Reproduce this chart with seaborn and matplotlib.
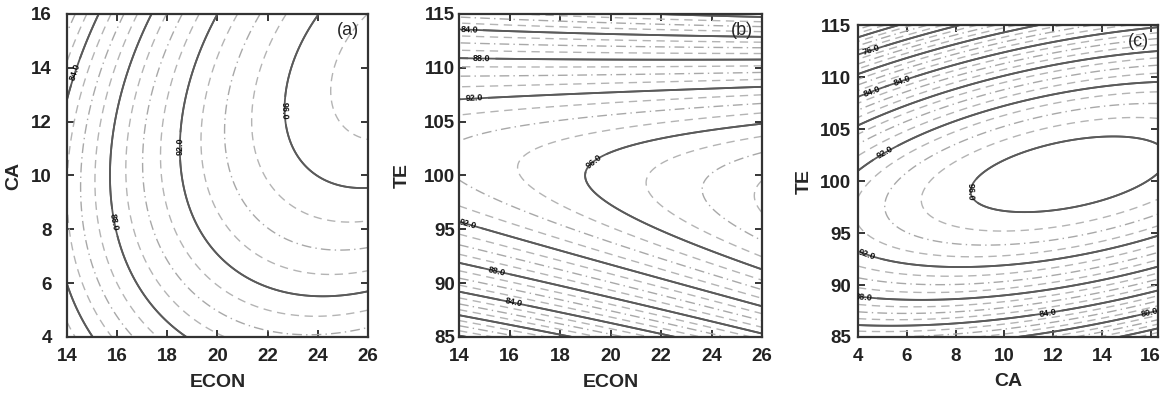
import numpy as np
import matplotlib
matplotlib.use("Agg")
import matplotlib.pyplot as plt
import seaborn as sns

# quadratic response-surface models in coded units
# terms: b0, b1, b2, b11, b22, b12
coef_a = [93.51, 5.665, 1.583, -2.867, -3.093, 2.208]   # ECON x CA
coef_b = [96.40, 2.40, -0.58, 0.09, -15.5, -3.46]       # ECON x TE
coef_c = [96.44, 1.72, -0.98, -2.22, -17.05, 5.56]      # CA x TE

# factor centres and half-ranges (coding)
econ_code = [20, 6]
ca_code = [10, 6]
te_code = [100, 15]

econ_lim = [14, 26]
ca_lim = [4, 16]
ca_lim_c = [4, 16.3]
te_lim = [85, 115]

econ_ticks = [14, 16, 18, 20, 22, 24, 26]
ca_ticks = [4, 6, 8, 10, 12, 14, 16]
te_ticks = [85, 90, 95, 100, 105, 110, 115]

levels_a = list(range(78, 98))
levels_b = list(range(70, 100))
levels_c = list(range(64, 97))

# where the contour values are printed
lab_a = [(14.5, 13.8), (18.0, 11.1), (22.3, 12.4), (14.5, 8.0)]
lab_b = [(14.4, 113.5), (14.9, 110.8), (14.6, 107.2), (19.2, 101.8),
         (14.3, 95.1), (15.5, 91.2), (16.2, 88.4)]
lab_c = [(4.6, 112.2), (5.7, 110.3), (4.7, 107.8), (4.8, 104.0),
         (8.1, 99.0), (4.3, 92.4), (4.2, 88.3), (11.8, 87.2), (16.0, 86.8)]

sns.set_style("ticks")
plt.rcParams['font.family'] = ['Liberation Sans', 'DejaVu Sans']


def surface(coef, xlim, ylim, xcode, ycode):
    x = np.linspace(xlim[0], xlim[1], 300)
    y = np.linspace(ylim[0], ylim[1], 300)
    X, Y = np.meshgrid(x, y)
    x1 = (X - xcode[0]) / xcode[1]
    x2 = (Y - ycode[0]) / ycode[1]
    b0, b1, b2, b11, b22, b12 = coef
    Z = b0 + b1 * x1 + b2 * x2 + b11 * x1 ** 2 + b22 * x2 ** 2 + b12 * x1 * x2
    return X, Y, Z


def draw(ax, coef, xlim, ylim, xcode, ycode, levels, labpos, tag,
         xlabel, ylabel, xticks, yticks, ypad, ylab_x):
    X, Y, Z = surface(coef, xlim, ylim, xcode, ycode)
    styles, colors, widths = [], [], []
    for lv in levels:
        k = (lv - 96) % 4
        if k == 0:
            styles.append('solid'); colors.append('#5a5a5a'); widths.append(1.3)
        elif k == 2:
            styles.append((0, (7, 3, 1, 3))); colors.append('#a8a8a8'); widths.append(1.0)
        else:
            styles.append((0, (6, 4))); colors.append('#b4b4b4'); widths.append(1.0)
    ax.contour(X, Y, Z, levels=levels, colors=colors,
               linestyles=styles, linewidths=widths)
    solid = [lv for lv in levels if (lv - 96) % 4 == 0]
    cs_s = ax.contour(X, Y, Z, levels=solid, colors='#5a5a5a', linewidths=1.3)
    lbls = ax.clabel(cs_s, fmt='%.1f', fontsize=6.5, colors='#111111',
                     inline=True, manual=labpos)
    for t in lbls:
        t.set_fontweight('bold')
    ax.set_xlim(xlim)
    ax.set_ylim(ylim)
    ax.set_xticks(xticks)
    ax.set_yticks(yticks)
    ax.set_xlabel(xlabel, fontsize=14, fontweight='bold')
    ax.set_ylabel(ylabel, fontsize=14, fontweight='bold')
    ax.xaxis.set_label_coords(0.5, -0.115)
    ax.yaxis.set_label_coords(ylab_x, 0.5)
    ax.tick_params(direction='in', top=True, right=True, length=5, width=1.3,
                   labelsize=13.5)
    ax.tick_params(axis='x', pad=8)
    ax.tick_params(axis='y', pad=ypad)
    for lb in ax.get_xticklabels() + ax.get_yticklabels():
        lb.set_fontweight('bold')
        lb.set_color('#222222')
    for s in ax.spines.values():
        s.set_linewidth(1.6)
        s.set_color('#333333')
    ax.text(0.97, 0.975, tag, transform=ax.transAxes, ha='right', va='top',
            fontsize=13)


fig = plt.figure(figsize=(11.63, 4.03), dpi=100)
ax_a = fig.add_axes([0.0576, 0.1638, 0.2588, 0.8015])
ax_b = fig.add_axes([0.3947, 0.1638, 0.2605, 0.8015])
ax_c = fig.add_axes([0.7377, 0.1638, 0.2580, 0.7740])

draw(ax_a, coef_a, econ_lim, ca_lim, econ_code, ca_code, levels_a, lab_a,
     '(a)', 'ECON', 'CA', econ_ticks, ca_ticks, 11, -0.15)
draw(ax_b, coef_b, econ_lim, te_lim, econ_code, te_code, levels_b, lab_b,
     '(b)', 'ECON', 'TE', econ_ticks, te_ticks, 3, -0.16)
draw(ax_c, coef_c, ca_lim_c, te_lim, ca_code, te_code, levels_c, lab_c,
     '(c)', 'CA', 'TE', ca_ticks, te_ticks, 5, -0.15)

fig.savefig("out.png", dpi=100)
